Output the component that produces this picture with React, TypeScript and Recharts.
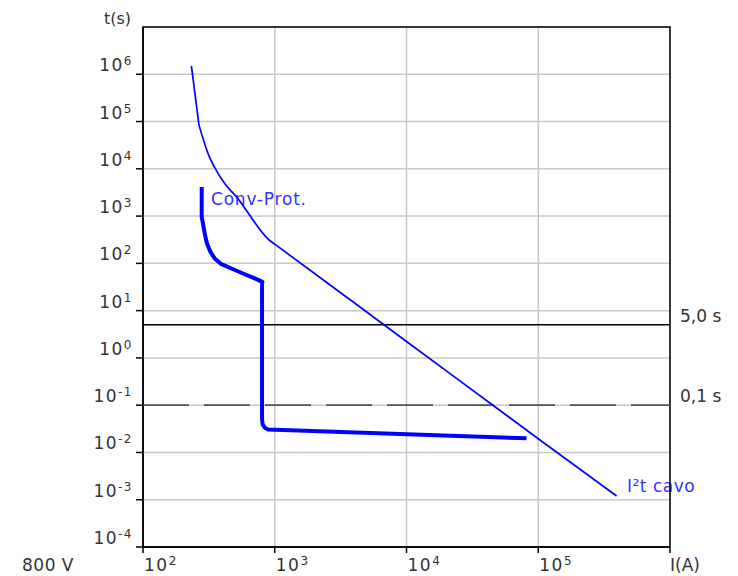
import React from 'react'
import {
  LineChart, Line, XAxis, YAxis, CartesianGrid, ReferenceLine, ReferenceArea, Customized,
} from 'recharts'

// curve readings (I in A, t in s)
const cableI = [233, 266, 312, 360, 417, 512, 916, 1000, 10000, 100000, 393000]
const cableT = [1.5e6, 8.4e4, 2.1e4, 9.3e3, 4.9e3, 2550, 305, 255, 2.23, 0.0195, 0.0012]

const protI = [279, 279, 285, 294, 306, 325, 350, 394, 469, 574, 684, 806, 801, 801, 810, 839, 889, 81500]
const protT = [4140, 961, 698, 428, 263, 175, 127, 96, 78, 61, 50, 40.6, 38, 0.05, 0.039, 0.0335, 0.0305, 0.0199]

const xTicks = [100, 1000, 10000, 100000, 1000000]
const yTicks = [1e-4, 1e-3, 1e-2, 1e-1, 1, 10, 100, 1e3, 1e4, 1e5, 1e6]

const cable = cableI.map((I, i) => ({ I, t: cableT[i] }))
// the cable curve has a sharp corner at its second point, smooth after it
const cableTop = cable.slice(0, 2)
const cableRest = cable.slice(1)
const prot = protI.map((I, i) => ({ I, t: protT[i] }))

const FONT = '"DejaVu Sans", sans-serif'
const TEXT = '#333'
const BLUE = '#0000ff'
const PLOT_LEFT = 135

function YTick({ y, payload }: any) {
  const exp = Math.round(Math.log10(payload.value))
  return (
    <text x={PLOT_LEFT - 10} y={y - 3} textAnchor="end" fill={TEXT} fontSize={17} fontFamily={FONT} letterSpacing={1.5}>
      <tspan>10</tspan>
      <tspan dy={-6} fontSize={12}>{exp}</tspan>
    </text>
  )
}

function XTick({ x, payload }: any) {
  if (payload.value >= 1e6) {
    return <text x={x} y={563} fill={TEXT} fontSize={17} fontFamily={FONT}>I(A)</text>
  }
  const exp = Math.round(Math.log10(payload.value))
  return (
    <text x={x + 1} y={563} fill={TEXT} fontSize={17} fontFamily={FONT} letterSpacing={1.5}>
      <tspan>10</tspan>
      <tspan dy={-6} fontSize={12}>{exp}</tspan>
    </text>
  )
}

function Notes() {
  return (
    <g fontFamily={FONT} fontSize={17}>
      <text x={123} y={16} textAnchor="end" fill={TEXT} fontSize={16}>t(s)</text>
      <text x={14} y={563} fill={TEXT} letterSpacing={0.5}>800 V</text>
      <text x={203} y={197} fill="#3333ff" letterSpacing={0.8}>Conv-Prot.</text>
      <text x={619} y={484} fill="#3333ff" letterSpacing={0.5}>I²t cavo</text>
    </g>
  )
}

export default function App() {
  return (
    <LineChart width={730} height={568} margin={{ top: 19, right: 68, bottom: 0, left: 35 }}>
      <CartesianGrid stroke="#c8c8c8" strokeWidth={1.5} />
      <XAxis
        dataKey="I" type="number" scale="log" domain={[100, 1e6]} ticks={xTicks}
        allowDataOverflow height={29} tickSize={6} tick={<XTick />}
        axisLine={{ stroke: '#000', strokeWidth: 1.5 }} tickLine={{ stroke: '#000', strokeWidth: 1.5 }}
      />
      <YAxis
        dataKey="t" type="number" scale="log" domain={[1e-4, 1e7]} ticks={yTicks}
        allowDataOverflow width={100} tickSize={7} tick={<YTick />}
        axisLine={{ stroke: '#000', strokeWidth: 1.5 }} tickLine={{ stroke: '#000', strokeWidth: 1.5 }}
      />
      <ReferenceArea x1={100} x2={1e6} y1={1e-4} y2={1e7} fill="none" stroke="#000" strokeWidth={1.5} />
      <ReferenceLine
        y={5} stroke="#000" strokeWidth={1.5}
        label={{ value: '5,0 s', position: 'right', offset: 10, dy: -9, fill: TEXT, fontSize: 17, fontFamily: FONT }}
      />
      <ReferenceLine
        y={0.1} stroke="#555" strokeWidth={1.8} strokeDasharray="46 15"
        label={{ value: '0,1 s', position: 'right', offset: 10, dy: -9, fill: TEXT, fontSize: 17, fontFamily: FONT }}
      />
      <Line data={cableTop} dataKey="t" type="linear" stroke={BLUE} strokeWidth={1.7} dot={false} isAnimationActive={false} />
      <Line data={cableRest} dataKey="t" type="monotone" stroke={BLUE} strokeWidth={1.7} dot={false} isAnimationActive={false} />
      <Line data={prot} dataKey="t" type="linear" stroke={BLUE} strokeWidth={4} strokeLinejoin="round" dot={false} isAnimationActive={false} />
      <Customized component={Notes} />
    </LineChart>
  )
}
